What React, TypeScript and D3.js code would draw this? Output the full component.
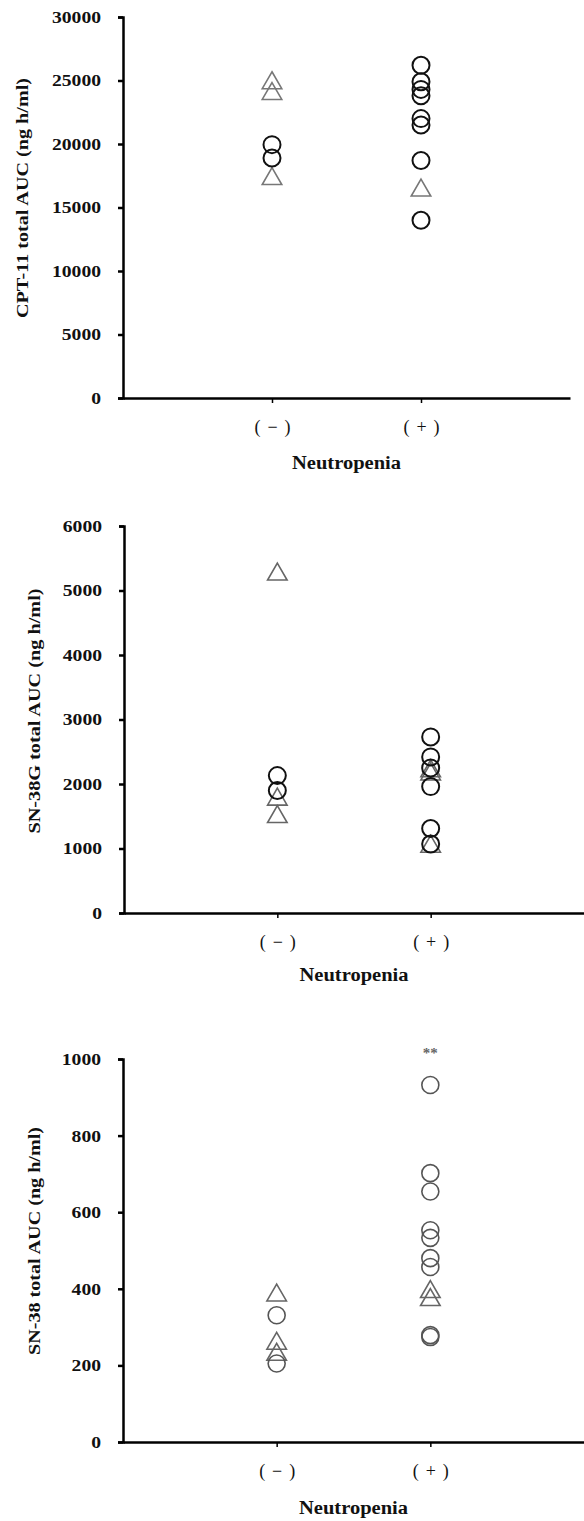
import React, { useEffect, useRef } from 'react';
import * as d3 from 'd3';

// categories on the x axis
const categories = ['(−)', '(+)'];

// CPT-11 total AUC (ng h/ml)
const cptNegCircles = [19950, 18900];
const cptNegTriangles = [24800, 23950, 17250];
const cptPosCircles = [26200, 24900, 24300, 23800, 22000, 21500, 18700, 14000];
const cptPosTriangles = [16350];
const cptTicks = [0, 5000, 10000, 15000, 20000, 25000, 30000];

// SN-38G total AUC (ng h/ml)
const sn38gNegCircles = [2130, 1900];
const sn38gNegTriangles = [5250, 1760, 1490];
const sn38gPosCircles = [2730, 2420, 2250, 1960, 1310, 1070];
const sn38gPosTriangles = [2200, 2150, 1030];
const sn38gTicks = [0, 1000, 2000, 3000, 4000, 5000, 6000];

// SN-38 total AUC (ng h/ml)
const sn38NegCircles = [331, 205];
const sn38NegTriangles = [383, 257, 228];
const sn38PosCircles = [932, 702, 654, 553, 533, 480, 457, 279, 274];
const sn38PosTriangles = [392, 371];
const sn38Ticks = [0, 200, 400, 600, 800, 1000];

const FONT = '"Liberation Serif", "Times New Roman", serif';

const Panel = ({ neg, pos, ticks, label, layout, style, star }) => {
    const gRef = useRef(null);

    useEffect(() => {
        const g = d3.select(gRef.current);
        g.selectAll('*').remove();

        const yScale = d3.scaleLinear()
            .domain([ticks[0], ticks[ticks.length - 1]])
            .range([layout.y0, layout.yTop]);

        const xScale = d3.scalePoint()
            .domain(categories)
            .range([layout.x0, layout.x1])
            .padding(1);

        // y axis (the source figure is stretched sideways, so text is widened)
        const yAxis = g.append('g')
            .attr('transform', `translate(${layout.x0},0)`)
            .call(d3.axisLeft(yScale).tickValues(ticks).tickSize(5).tickPadding(17).tickFormat(d3.format('d')));
        yAxis.select('.domain').attr('stroke', '#000').attr('stroke-width', 2.5);
        yAxis.selectAll('.tick line').attr('stroke', '#000').attr('stroke-width', 2.5);
        yAxis.selectAll('.tick text')
            .attr('fill', '#111')
            .attr('textLength', d => String(d).length * 9.8)
            .attr('lengthAdjust', 'spacingAndGlyphs')
            .style('font-family', FONT)
            .style('font-weight', 'bold')
            .style('font-size', '17px');

        // x axis
        const xAxis = g.append('g')
            .attr('transform', `translate(0,${layout.y0})`)
            .call(d3.axisBottom(xScale).tickSizeInner(5).tickSizeOuter(0).tickPadding(17));
        xAxis.select('.domain').attr('stroke', '#000').attr('stroke-width', 2.5);
        xAxis.selectAll('.tick line').attr('stroke', '#000').attr('stroke-width', 1.5);
        xAxis.selectAll('.tick text')
            .attr('fill', '#111')
            .attr('textLength', 36)
            .attr('lengthAdjust', 'spacing')
            .style('font-family', FONT)
            .style('font-size', '18px');

        // axis titles
        g.append('text')
            .attr('x', (layout.x0 + layout.x1) / 2)
            .attr('y', layout.xLabelY)
            .attr('text-anchor', 'middle')
            .attr('dominant-baseline', 'middle')
            .attr('fill', '#111')
            .attr('textLength', 109)
            .attr('lengthAdjust', 'spacingAndGlyphs')
            .style('font-family', FONT)
            .style('font-weight', 'bold')
            .style('font-size', '18px')
            .text('Neutropenia');

        g.append('text')
            .attr('transform', `translate(${layout.yLabelX},${layout.yLabelY}) rotate(-90)`)
            .attr('text-anchor', 'middle')
            .attr('dominant-baseline', 'middle')
            .attr('fill', '#111')
            .attr('textLength', layout.yLabelLen)
            .attr('lengthAdjust', 'spacingAndGlyphs')
            .style('font-family', FONT)
            .style('font-weight', 'bold')
            .style('font-size', '17px')
            .text(label);

        const groups = [
            { cat: categories[0], circles: neg.circles, triangles: neg.triangles },
            { cat: categories[1], circles: pos.circles, triangles: pos.triangles }
        ];

        const tri = d3.symbol(d3.symbolTriangle, 165);

        groups.forEach(grp => {
            g.selectAll(null)
                .data(grp.triangles)
                .enter().append('path')
                .attr('d', tri)
                .attr('transform', d => `translate(${xScale(grp.cat)},${yScale(d)})`)
                .attr('fill', 'none')
                .attr('stroke', style.triangle)
                .attr('stroke-width', 1.6);

            g.selectAll(null)
                .data(grp.circles)
                .enter().append('circle')
                .attr('cx', xScale(grp.cat))
                .attr('cy', d => yScale(d))
                .attr('r', 8.5)
                .attr('fill', 'none')
                .attr('stroke', style.circle)
                .attr('stroke-width', style.circleWidth);
        });

        if (star) {
            g.append('text')
                .attr('x', xScale(categories[1]))
                .attr('y', yScale(ticks[ticks.length - 1]) - 1)
                .attr('text-anchor', 'middle')
                .attr('fill', '#666')
                .style('font-family', FONT)
                .style('font-weight', 'bold')
                .style('font-size', '15px')
                .text(star);
        }
    }, []);

    return <g ref={gRef}></g>;
};

export default function App() {
    return (
        <svg width={584} height={1521} style={{ position: 'absolute', left: 0, top: 0, background: '#fff' }}>
            <Panel
                neg={{ circles: cptNegCircles, triangles: cptNegTriangles }}
                pos={{ circles: cptPosCircles, triangles: cptPosTriangles }}
                ticks={cptTicks}
                label="CPT-11 total AUC (ng h/ml)"
                layout={{ x0: 123, x1: 570, yTop: 17, y0: 398, xLabelY: 465, yLabelX: 24, yLabelY: 198, yLabelLen: 240 }}
                style={{ circle: '#111', triangle: '#777', circleWidth: 2 }}
            />
            <Panel
                neg={{ circles: sn38gNegCircles, triangles: sn38gNegTriangles }}
                pos={{ circles: sn38gPosCircles, triangles: sn38gPosTriangles }}
                ticks={sn38gTicks}
                label="SN-38G total AUC (ng h/ml)"
                layout={{ x0: 124, x1: 584, yTop: 526, y0: 913, xLabelY: 977, yLabelX: 36, yLabelY: 711, yLabelLen: 245 }}
                style={{ circle: '#111', triangle: '#666', circleWidth: 2 }}
            />
            <Panel
                neg={{ circles: sn38NegCircles, triangles: sn38NegTriangles }}
                pos={{ circles: sn38PosCircles, triangles: sn38PosTriangles }}
                ticks={sn38Ticks}
                label="SN-38 total AUC (ng h/ml)"
                layout={{ x0: 123, x1: 584, yTop: 1059, y0: 1442, xLabelY: 1510, yLabelX: 36, yLabelY: 1241, yLabelLen: 228 }}
                style={{ circle: '#555', triangle: '#666', circleWidth: 1.6 }}
                star="**"
            />
        </svg>
    );
}
